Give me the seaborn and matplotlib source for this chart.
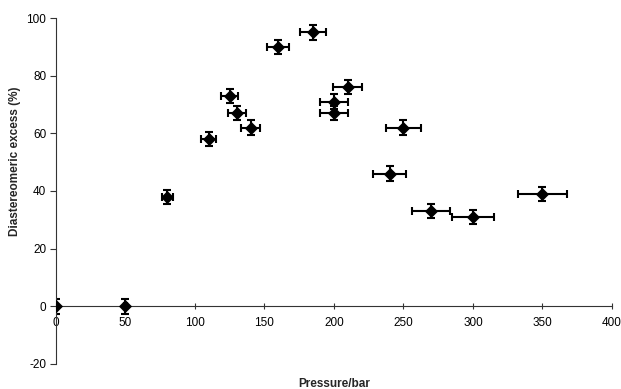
import numpy as np
import pandas as pd
import matplotlib
matplotlib.use("Agg")
import matplotlib.pyplot as plt
import seaborn as sns

# === Data ===
pressure = [0, 50, 80, 110, 125, 130, 140, 160, 185, 200, 200, 210, 240, 250, 270, 300, 350]
de = [0, 0, 38, 58, 73, 67, 62, 90, 95, 71, 67, 76, 46, 62, 33, 31, 39]
xerr = [0, 1, 4, 5.5, 6.25, 6.5, 7, 8, 9.25, 10, 10, 10.5, 12, 12.5, 13.5, 15, 17.5]
yerr = [2.5, 2.5, 2.5, 2.5, 2.5, 2.5, 2.5, 2.5, 2.5, 2.5, 2.5, 2.5, 2.5, 2.5, 2.5, 2.5, 2.5]

x_ticks = [0, 50, 100, 150, 200, 250, 300, 350, 400]
y_ticks = [-20, 0, 20, 40, 60, 80, 100]

df = pd.DataFrame({"pressure": pressure, "de": de})

sns.set_style("ticks")
plt.rcParams["font.family"] = ["Liberation Sans", "DejaVu Sans"]
plt.rcParams["axes.unicode_minus"] = False

fig, ax = plt.subplots(figsize=(6.21, 3.89), dpi=100)
fig.subplots_adjust(left=0.090, right=0.9855, bottom=0.0643, top=0.9537)

# === error bars + markers ===
ax.errorbar(pressure, de, xerr=xerr, yerr=yerr, fmt="none", ecolor="black",
            elinewidth=1.5, capsize=3.2, capthick=1.5, zorder=2)
sns.scatterplot(data=df, x="pressure", y="de", marker="D", color="black",
                s=45, edgecolor="black", linewidth=0, ax=ax, zorder=3)

ax.set_xlim(0, 400)
ax.set_ylim(-20, 100)
ax.set_xticks(x_ticks)
ax.set_yticks(y_ticks)

# axes cross at the origin
ax.spines["left"].set_position(("data", 0))
ax.spines["bottom"].set_position(("data", 0))
ax.spines["top"].set_visible(False)
ax.spines["right"].set_visible(False)
for s in ("left", "bottom"):
    ax.spines[s].set_linewidth(0.8)
    ax.spines[s].set_color("#333333")

ax.tick_params(axis="x", direction="inout", length=5, width=0.8, labelsize=8.5, pad=5, colors="#333333")
ax.tick_params(axis="y", direction="out", length=4, width=0.8, labelsize=8.5, pad=3, colors="#333333")
for lbl in ax.get_xticklabels() + ax.get_yticklabels():
    lbl.set_color("black")

ax.set_xlabel("Pressure/bar", fontsize=8.5, fontweight="bold")
ax.set_ylabel("Diastereomeric excess (%)", fontsize=8.5, fontweight="bold")
ax.xaxis.set_label_coords(0.5, -0.04)
ax.yaxis.set_label_coords(-0.062, 0.587)

plt.savefig("out.png", dpi=100)
